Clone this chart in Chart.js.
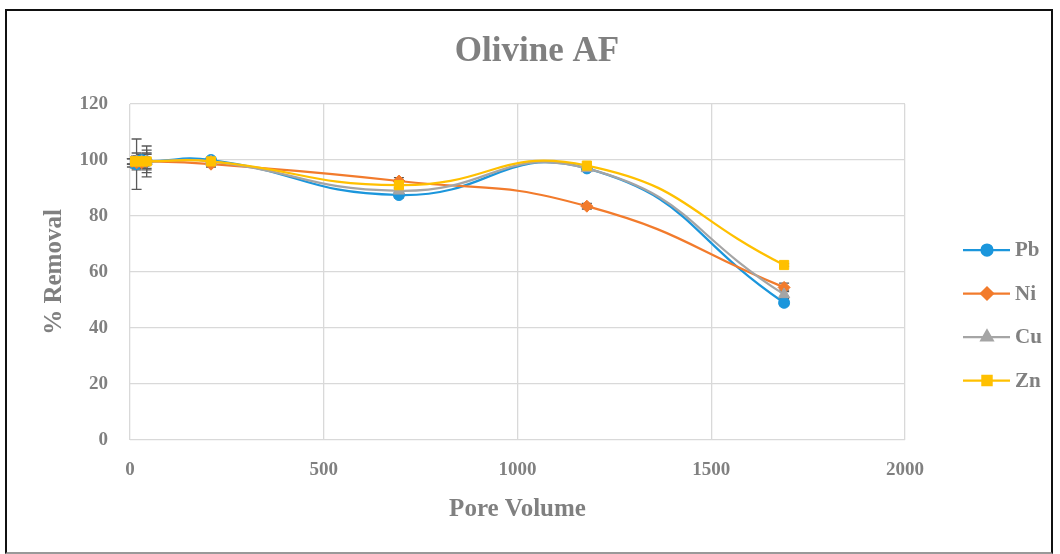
<!DOCTYPE html>
<html>
<head>
<meta charset="utf-8">
<script src="https://cdn.jsdelivr.net/npm/chart.js@4"></script>
<style>
  body { margin: 0; background: #fff; }
  #wrap { position: relative; width: 1060px; height: 554px; }
  #frame { position: absolute; left: 5px; top: 9px; width: 1048px; height: 545px;
           border: 2px solid #111; border-bottom-color: #999; box-sizing: border-box; pointer-events: none; }
</style>
</head>
<body>
<div id="wrap">
  <canvas id="removalChart" width="1060" height="554"></canvas>
  <div id="frame"></div>
</div>
<script>
// pore volume values (x)
var poreVolume = [5, 17, 30, 43, 209, 694, 1179, 1688];
// % removal per metal
var pb = [99, 98.5, 100, 99.5, 100, 87.5, 97, 49];
var ni = [99.5, 99, 99, 99.5, 98.5, 92.5, 83.5, 54.5];
var cu = [99.5, 99.5, 99.5, 99.5, 99.5, 89, 97, 52];
var zn = [99.5, 99.5, 99.5, 99.5, 99.5, 91, 98, 62.5];
// error bar half-widths
var pbErr = [1.5, 9, 2, 3, 0.5, 1, 0.5, 1];
var niErr = [1, 2, 1.5, 5.5, 1, 1.2, 1, 1.5];
var cuErr = [1, 3, 1, 4, 0.5, 1, 0.5, 1.5];
var znErr = [1, 2, 1, 2.5, 0.5, 1, 0.5, 0.5];
var xTicks = [0, 500, 1000, 1500, 2000];

var grey = '#808080';
var fontFamily = '"Liberation Serif", "DejaVu Serif", serif';

function pts(ys) {
  return poreVolume.map(function (x, i) { return { x: x, y: ys[i] }; });
}

var errorBars = {
  id: 'errorBars',
  beforeDatasetsDraw: function (chart) {
    var ctx = chart.ctx, xs = chart.scales.x, ys = chart.scales.y;
    ctx.save();
    ctx.strokeStyle = '#595959';
    ctx.lineWidth = 1.3;
    chart.data.datasets.forEach(function (ds) {
      ds.data.forEach(function (p, i) {
        var e = ds.errors[i];
        var px = xs.getPixelForValue(p.x);
        var top = ys.getPixelForValue(p.y + e), bot = ys.getPixelForValue(p.y - e);
        ctx.beginPath();
        ctx.moveTo(px, top); ctx.lineTo(px, bot);
        ctx.moveTo(px - 5, top); ctx.lineTo(px + 5, top);
        ctx.moveTo(px - 5, bot); ctx.lineTo(px + 5, bot);
        ctx.stroke();
      });
    });
    ctx.restore();
  }
};

// title and legend drawn beside the plot, like the spreadsheet layout
var sideLegend = {
  id: 'sideLegend',
  afterDraw: function (chart) {
    var ctx = chart.ctx;
    ctx.save();
    ctx.fillStyle = grey;
    ctx.font = 'bold 35px ' + fontFamily;
    ctx.textAlign = 'center';
    ctx.textBaseline = 'middle';
    ctx.fillText('Olivine AF', 537, 52);
    ctx.restore();

    var y0 = 250, step = 43.5;
    chart.data.datasets.forEach(function (ds, i) {
      var y = y0 + i * step;
      ctx.save();
      ctx.strokeStyle = ds.borderColor;
      ctx.lineWidth = 2.25;
      ctx.beginPath(); ctx.moveTo(963, y); ctx.lineTo(1010, y); ctx.stroke();
      ctx.fillStyle = ds.backgroundColor;
      Chart.helpers.drawPoint(ctx, { pointStyle: ds.pointStyle, radius: ds.pointRadius, borderWidth: 1 }, 987, y);
      ctx.fill();
      ctx.fillStyle = grey;
      ctx.font = 'bold 21px ' + fontFamily;
      ctx.textBaseline = 'middle';
      ctx.fillText(ds.label, 1015, y + 1);
      ctx.restore();
    });
  }
};

function series(label, ys, errs, color, style, r, order) {
  return {
    label: label, data: pts(ys), errors: errs,
    borderColor: color, backgroundColor: color,
    pointStyle: style, pointRadius: r, pointHoverRadius: r,
    pointBorderWidth: 1, borderWidth: 2.25,
    showLine: true, tension: 0.5, order: order
  };
}

new Chart(document.getElementById('removalChart').getContext('2d'), {
  type: 'scatter',
  data: {
    datasets: [
      series('Pb', pb, pbErr, '#1B96DC', 'circle', 5.5, 4),
      series('Ni', ni, niErr, '#F27B2C', 'rectRot', 6, 3),
      series('Cu', cu, cuErr, '#A5A5A5', 'triangle', 6.5, 2),
      series('Zn', zn, znErr, '#FFC000', 'rect', 6.5, 1)
    ]
  },
  options: {
    responsive: false,
    animation: false,
    layout: { padding: { left: 0, right: 155, top: 104, bottom: 0 } },
    plugins: {
      legend: { display: false },
      tooltip: { enabled: false },
      title: { display: false }
    },
    scales: {
      x: {
        type: 'linear', min: 0, max: 2000,
        afterBuildTicks: function (s) { s.ticks = xTicks.map(function (v) { return { value: v }; }); },
        afterFit: function (s) { s.height = 114; },
        grid: { color: '#D9D9D9', lineWidth: 1.3, drawTicks: false },
        border: { display: false },
        ticks: {
          color: grey, padding: 19, font: { family: fontFamily, size: 19, weight: 'bold' },
          callback: function (v) { return String(v); }
        },
        title: {
          display: true, text: 'Pore Volume', color: grey,
          font: { family: fontFamily, size: 25, weight: 'bold' },
          padding: { top: 0, bottom: 29 }
        }
      },
      y: {
        min: 0, max: 120,
        afterFit: function (s) { s.width = 130; },
        grid: { color: '#D9D9D9', lineWidth: 1.3, drawTicks: false },
        border: { display: false },
        ticks: { stepSize: 20, color: grey, padding: 22, font: { family: fontFamily, size: 19, weight: 'bold' } },
        title: {
          display: true, text: '% Removal', color: grey,
          font: { family: fontFamily, size: 25, weight: 'bold' },
          padding: { top: 40, bottom: 0 }
        }
      }
    }
  },
  plugins: [errorBars, sideLegend]
});
</script>
</body>
</html>
